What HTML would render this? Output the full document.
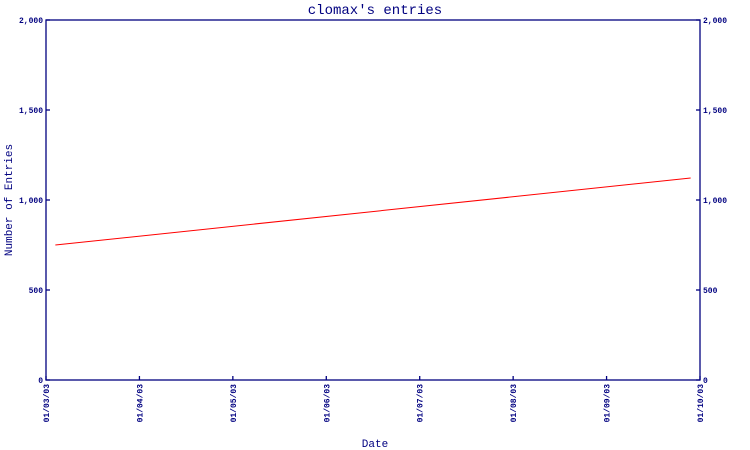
<!DOCTYPE html>
<html><head><meta charset="utf-8"><style>
body{margin:0;background:#fff}
svg{display:block;font-family:"Liberation Mono",monospace}
</style></head><body>
<svg width="750" height="450" viewBox="0 0 750 450">
<g id="g"></g>
</svg>
<script>
const xLabels=["01/03/03","01/04/03","01/05/03","01/06/03","01/07/03","01/08/03","01/09/03","01/10/03"];
const yTicks=[0,500,1000,1500,2000];
const yTickLabels=["0","500","1,000","1,500","2,000"];
const seriesX=[0.1,6.9];
const seriesY=[750,1122];
const L=46,R=700,T=20,B=380,C="#000080";
const xs=i=>L+(R-L)*i/(xLabels.length-1);
const ys=v=>B-(B-T)*v/2000;
const g=document.getElementById('g');
const NS="http://www.w3.org/2000/svg";
function mk(t,a,txt){const e=document.createElementNS(NS,t);for(const k in a)e.setAttribute(k,a[k]);if(txt!=null)e.textContent=txt;g.appendChild(e);return e;}
let e=mk('rect',{x:L,y:T,width:R-L,height:B-T,fill:"none",stroke:C,"stroke-width":1.3});


e=mk('text',{x:375,y:14,"text-anchor":"middle",fill:C,"font-size":14},"clomax's entries");


e=mk('text',{x:375,y:447,"text-anchor":"middle",fill:C,"font-size":11},"Date");


e=mk('text',{x:12,y:200,"text-anchor":"middle",fill:C,"font-size":11,transform:"rotate(-90 12 200)"},"Number of Entries");


yTicks.forEach((v,i)=>{
 const y=ys(v);
 let t=mk('line',{x1:L,x2:L+4,y1:y,y2:y,stroke:C,"stroke-width":1.3});
 
 
 t=mk('line',{x1:R-4,x2:R,y1:y,y2:y,stroke:C,"stroke-width":1.3});
 
 
 t=mk('text',{x:L-3,y:y+3,"text-anchor":"end",fill:C,"font-size":8,"font-weight":"bold"},yTickLabels[i]);
 
 
 t=mk('text',{x:R+3,y:y+3,"text-anchor":"start",fill:C,"font-size":8,"font-weight":"bold"},yTickLabels[i]);
 
 
});
xLabels.forEach((s,i)=>{
 const x=xs(i);
 let t=mk('line',{x1:x,x2:x,y1:B-4,y2:B,stroke:C,"stroke-width":1.3});
 
 
 t=mk('text',{x:x+3,y:B+4,"text-anchor":"end",fill:C,"font-size":8,"font-weight":"bold",transform:`rotate(-90 ${x+3} ${B+4})`},s);
 
 
});
const pts=seriesX.map((v,i)=>(L+(R-L)*v/(xLabels.length-1))+","+ys(seriesY[i])).join(" ");
e=mk('polyline',{points:pts,fill:"none",stroke:"#ff0000","stroke-width":1});


</script>
</body></html>
